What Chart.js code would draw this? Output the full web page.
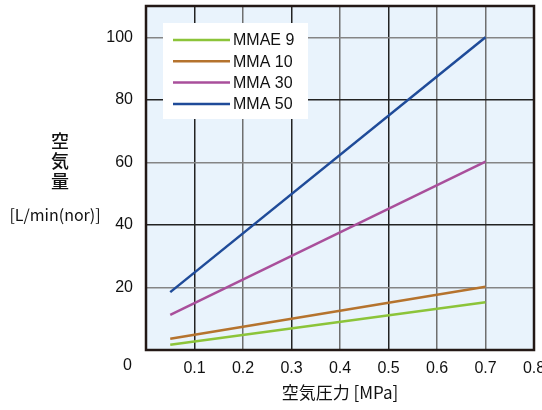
<!DOCTYPE html>
<html>
<head>
<meta charset="utf-8">
<script src="https://cdn.jsdelivr.net/npm/chart.js@4"></script>
<style>
  html, body { margin: 0; padding: 0; background: #ffffff; }
  #wrap { width: 542px; height: 410px; position: relative; }
</style>
</head>
<body>
<div id="wrap"><canvas id="chart"></canvas></div>
<script>
// Daten
const pressure = [0.05, 0.7];
const seriesNames = ['MMAE 9', 'MMA 10', 'MMA 30', 'MMA 50'];
const mmae9 = [1.7, 15.3];
const mma10 = [3.6, 20.2];
const mma30 = [11.2, 60.2];
const mma50 = [18.5, 100];
const xTicks = [0.1, 0.2, 0.3, 0.4, 0.5, 0.6, 0.7, 0.8];
const yTicks = [20, 40, 60, 80, 100];
const xTitle = '空気圧力 [MPa]';
const yTitleChars = ['空', '気', '量'];
const yUnit = '[L/min(nor)]';
const originLabel = '0';

const colors = ['#8cc43a', '#b5732e', '#a94f9b', '#1f4b99'];
const tickFont = "'Liberation Sans Narrow', 'Liberation Sans', Arial, sans-serif";
const cjkFont = "'Noto Sans CJK JP', 'Noto Sans', sans-serif";

function toPoints(values) {
    return pressure.map((p, i) => ({ x: p, y: values[i] }));
}

const datasets = [mmae9, mma10, mma30, mma50].map((values, i) => ({
    label: seriesNames[i],
    data: toPoints(values),
    borderColor: colors[i],
    backgroundColor: colors[i],
    borderWidth: 2.5,
    pointRadius: 0,
    tension: 0,
}));

// Hintergrund, Rahmen, Legende und Zusatztexte
const decorPlugin = {
    id: 'decor',
    beforeDraw(chart) {
        const { ctx, chartArea: a } = chart;
        ctx.save();
        ctx.fillStyle = '#e9f3fc';
        ctx.fillRect(a.left, a.top, a.right - a.left, a.bottom - a.top);
        ctx.restore();
    },
    afterDraw(chart) {
        const { ctx, chartArea: a, scales } = chart;
        ctx.save();
        // Rahmen
        ctx.strokeStyle = '#231815';
        ctx.lineWidth = 2.5;
        ctx.strokeRect(a.left, a.top, a.right - a.left, a.bottom - a.top);

        // Legende
        const bx = a.left + 17, by = a.top + 17;
        ctx.fillStyle = '#ffffff';
        ctx.fillRect(bx, by, 145, 96);
        chart.data.datasets.forEach((ds, i) => {
            const y = by + 17 + i * 21.3;
            ctx.strokeStyle = ds.borderColor;
            ctx.lineWidth = 2.5;
            ctx.beginPath();
            ctx.moveTo(bx + 10, y);
            ctx.lineTo(bx + 67, y);
            ctx.stroke();
            ctx.fillStyle = '#111111';
            ctx.font = "16px 'Liberation Sans', Arial, sans-serif";
            ctx.textAlign = 'left';
            ctx.textBaseline = 'middle';
            ctx.fillText(ds.label, bx + 70, y + 1);
        });

        // Ursprung "0"
        ctx.fillStyle = '#111111';
        ctx.font = '16px ' + tickFont;
        ctx.textAlign = 'right';
        ctx.textBaseline = 'middle';
        ctx.fillText(originLabel, a.left - 14, scales.x.top + 16);

        // Y-Achsentitel
        ctx.font = '500 18px ' + cjkFont;
        ctx.textAlign = 'center';
        yTitleChars.forEach((ch, i) => {
            ctx.fillText(ch, 60, 141 + i * 20);
        });
        ctx.font = '16px ' + cjkFont;
        ctx.fillText(yUnit, 55, 215);
        ctx.restore();
    }
};

function xGridColor(c) {
    const v = Math.round(c.tick.value * 10);
    return (v === 1 || v === 3 || v === 5) ? '#222222' : '#6f6f6f';
}

function yGridColor(c) {
    const v = c.tick.value;
    return (v === 40 || v === 80) ? '#222222' : '#858585';
}

const chart = new Chart(document.getElementById('chart'), {
    type: 'line',
    data: { datasets: datasets },
    options: {
        responsive: true,
        maintainAspectRatio: false,
        animation: false,
        layout: { padding: { left: 0, right: 8, top: 6, bottom: 0 } },
        plugins: {
            legend: { display: false },
            tooltip: { enabled: false },
        },
        scales: {
            x: {
                type: 'linear',
                min: 0,
                max: 0.8,
                afterBuildTicks: (scale) => { scale.ticks = xTicks.map(v => ({ value: v })); },
                afterFit: (scale) => {
                    scale.height = 60;
                    scale.paddingLeft = 0;
                    scale.paddingRight = 0;
                },
                grid: { color: xGridColor, lineWidth: 1.5, drawTicks: false },
                border: { display: false },
                ticks: {
                    padding: 9,
                    color: '#111111',
                    font: { family: tickFont, size: 16 },
                    callback: (v) => v.toFixed(1),
                    maxRotation: 0,
                },
                title: {
                    display: true,
                    text: xTitle,
                    color: '#111111',
                    font: { family: cjkFont, size: 17 },
                    padding: { top: 0, bottom: 7 },
                },
            },
            y: {
                type: 'linear',
                min: 0,
                max: 110,
                afterBuildTicks: (scale) => { scale.ticks = yTicks.map(v => ({ value: v })); },
                afterFit: (scale) => {
                    scale.width = 146;
                    scale.paddingTop = 0;
                    scale.paddingBottom = 0;
                },
                grid: { color: yGridColor, lineWidth: 1.5, drawTicks: false },
                border: { display: false },
                ticks: {
                    padding: 13,
                    color: '#111111',
                    font: { family: tickFont, size: 16 },
                },
            },
        },
    },
    plugins: [decorPlugin],
});
</script>
</body>
</html>
